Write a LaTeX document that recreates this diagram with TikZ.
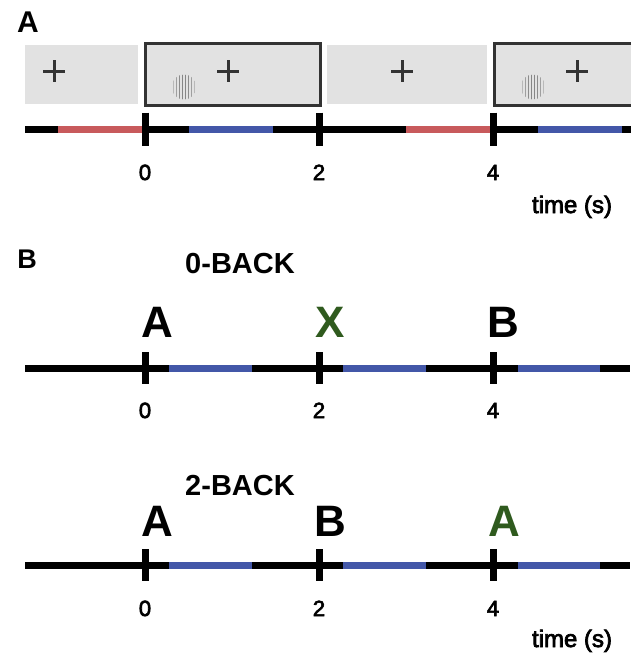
\documentclass[tikz,border=0pt]{standalone}
\usepackage{fontspec}
\setmainfont{Liberation Sans}
\newfontfamily\medfont[FakeBold=3]{Liberation Sans}
\definecolor{boxgray}{HTML}{E2E2E2}
\definecolor{framegray}{HTML}{333333}
\definecolor{segred}{HTML}{C85A5C}
\definecolor{segblue}{HTML}{4357A8}
\definecolor{tgreen}{HTML}{2F5A1E}
\begin{document}
\begin{tikzpicture}[x=1pt,y=-1pt,
  tl/.style={line width=7pt, black},
  tickmark/.style={line width=7pt, black},
  redseg/.style={line width=7pt, segred},
  blueseg/.style={line width=7pt, segblue},
  screen/.style={fill=boxgray, draw=none},
  frame/.style={draw=framegray, line width=3pt},
  plusmark/.style={draw=framegray, line width=3pt},
  grat/.style={line width=1.5pt},
  panel/.style={font=\bfseries\fontsize{30}{30}\selectfont, anchor=base, inner sep=0pt},
  cond/.style={font=\bfseries\fontsize{29}{29}\selectfont, anchor=base, inner sep=0pt},
  letter/.style={font=\bfseries\fontsize{44}{44}\selectfont, anchor=base, inner sep=0pt},
  ticklbl/.style={font=\medfont\fontsize{22}{22}\selectfont, anchor=base, inner sep=0pt},
  timelbl/.style={font=\medfont\fontsize{24}{24}\selectfont, anchor=base, inner sep=0pt}
]
\useasboundingbox (0,0) rectangle (640,654);

% ---------------- Panel A ----------------
\node[panel] (pA) at (28,32) {A};

% screens
\fill[screen] (25,45) rectangle (138,104);
\fill[screen] (144,42) rectangle (322,107);
\draw[frame] (145.5,43.5) rectangle (320.5,105.5);
\fill[screen] (327,45) rectangle (487,104);
\fill[screen] (493,42) rectangle (631,107);
\draw[frame] (631,43.5) -- (494.5,43.5) -- (494.5,105.5) -- (631,105.5);

% fixation crosses
\foreach \cx in {54,228,402,577}{
  \draw[plusmark] (\cx-11,71) -- (\cx+11,71);
  \draw[plusmark] (\cx,60) -- (\cx,82);
}

% gratings
\foreach \gx in {184,533}{
  \begin{scope}
    \clip (\gx,87) circle (12.5pt);
    \foreach \i/\c in {-10.5/55,-7.5/75,-4.5/90,-1.5/95,1.5/95,4.5/90,7.5/75,10.5/55}{
      \draw[grat, draw=gray!\c] (\gx+\i,73) -- (\gx+\i,101);
    }
  \end{scope}
}

% timeline A
\coordinate (aS) at (25,129);
\coordinate (aE) at (631,129);
\coordinate (aT0) at (145,129);
\coordinate (aT2) at (319,129);
\coordinate (aT4) at (493,129);
\draw[tl] (aS) -- (aE);
\draw[redseg] (58,129) -- (143,129);
\draw[blueseg] (189,129) -- (273,129);
\draw[redseg] (406,129) -- (490,129);
\draw[blueseg] (538,129) -- (622,129);
\foreach \t in {aT0,aT2,aT4}{
  \draw[tickmark] ([yshift=16.5pt]\t) -- ([yshift=-16.5pt]\t);
}
\node[ticklbl] (aL0) at (145,180) {0};
\node[ticklbl] (aL2) at (319,180) {2};
\node[ticklbl] (aL4) at (493,180) {4};
\node[timelbl] (aTime) at (572,213) {time (s)};

% ---------------- Panel B ----------------
\node[panel, font=\bfseries\fontsize{27}{27}\selectfont] (pB) at (27,268) {B};

% 0-BACK
\node[cond] (c0) at (240,273) {0-BACK};
\node[letter] (r1a) at (157,337) {A};
\node[letter, text=tgreen] (r1b) at (330,337) {X};
\node[letter] (r1c) at (503,337) {B};
\coordinate (bS) at (25,368);
\coordinate (bE) at (630,368);
\coordinate (bT0) at (145,368);
\coordinate (bT2) at (319,368);
\coordinate (bT4) at (493,368);
\draw[tl] (bS) -- (bE);
\draw[blueseg] (169,368) -- (252,368);
\draw[blueseg] (343,368) -- (426,368);
\draw[blueseg] (518,368) -- (600,368);
\foreach \t in {bT0,bT2,bT4}{
  \draw[tickmark] ([yshift=16pt]\t) -- ([yshift=-16pt]\t);
}
\node[ticklbl] (bL0) at (145,418) {0};
\node[ticklbl] (bL2) at (319,418) {2};
\node[ticklbl] (bL4) at (493,418) {4};

% 2-BACK
\node[cond] (c2) at (240,495) {2-BACK};
\node[letter] (r2a) at (157,536) {A};
\node[letter] (r2b) at (330,536) {B};
\node[letter, text=tgreen] (r2c) at (504,536) {A};
\coordinate (cS) at (25,565);
\coordinate (cE) at (630,565);
\coordinate (cT0) at (145,565);
\coordinate (cT2) at (319,565);
\coordinate (cT4) at (493,565);
\draw[tl] (cS) -- (cE);
\draw[blueseg] (169,565) -- (252,565);
\draw[blueseg] (343,565) -- (426,565);
\draw[blueseg] (518,565) -- (600,565);
\foreach \t in {cT0,cT2,cT4}{
  \draw[tickmark] ([yshift=16pt]\t) -- ([yshift=-16pt]\t);
}
\node[ticklbl] (cL0) at (145,616) {0};
\node[ticklbl] (cL2) at (319,616) {2};
\node[ticklbl] (cL4) at (493,616) {4};
\node[timelbl] (cTime) at (572,647) {time (s)};
\end{tikzpicture}
\end{document}
